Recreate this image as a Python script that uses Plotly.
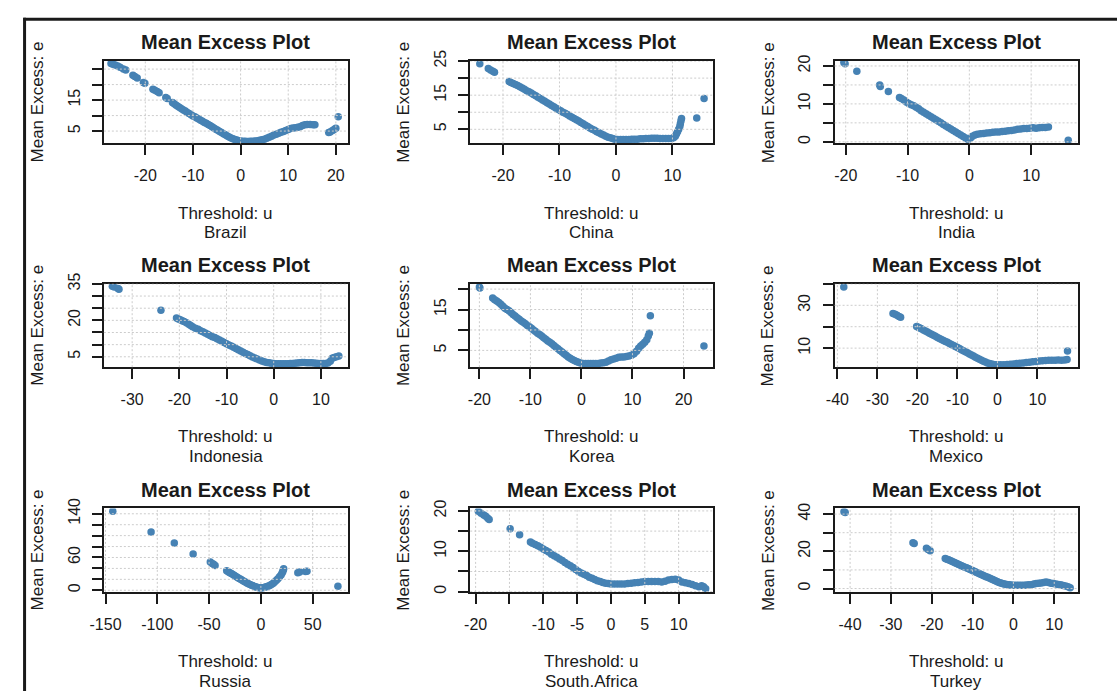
import plotly.graph_objects as go

W, H = 1117, 693

# (threshold u, mean excess e) pairs for each country
brazil = [
    (-27.2, 26.8), (-26.8, 26.6), (-26.3, 26.3), (-25.8, 26.0), (-25.3, 25.6), (-24.6, 25.0),
    (-24.1, 24.7), (-22.6, 23.0), (-22.2, 22.6), (-21.7, 22.1), (-20.4, 20.7), (-20.1, 20.4),
    (-18.4, 18.5), (-18.0, 18.2), (-17.5, 17.8), (-17.1, 17.4), (-15.7, 15.8), (-15.4, 15.5),
    (-14.3, 14.2), (-14.0, 13.9), (-13.6, 13.4), (-13.2, 13.0), (-12.8, 12.6), (-12.4, 12.2),
    (-12.0, 11.8), (-11.6, 11.5), (-11.2, 11.0), (-10.8, 10.7), (-10.4, 10.3), (-10.0, 9.9),
    (-9.6, 9.6), (-9.2, 9.2), (-8.8, 8.9), (-8.4, 8.5), (-8.0, 8.2), (-7.6, 7.8), (-7.2, 7.5),
    (-6.8, 7.1), (-6.4, 6.8), (-6.0, 6.4), (-5.6, 6.0), (-5.2, 5.6), (-4.8, 5.3), (-4.4, 4.9),
    (-4.0, 4.5), (-3.6, 4.1), (-3.2, 3.8), (-2.8, 3.4), (-2.4, 3.1), (-2.0, 2.8), (-1.6, 2.5),
    (-1.2, 2.3), (-0.8, 2.1), (-0.4, 1.9), (0.0, 1.8), (0.5, 1.7), (1.0, 1.7), (1.5, 1.6),
    (2.0, 1.7), (2.5, 1.7), (3.0, 1.8), (3.5, 1.9), (4.0, 2.0), (4.5, 2.2), (5.0, 2.4),
    (5.5, 2.7), (6.0, 3.0), (6.5, 3.3), (7.0, 3.7), (7.5, 4.0), (8.0, 4.3), (8.5, 4.6),
    (9.0, 4.9), (9.5, 5.2), (10.0, 5.5), (10.5, 5.8), (11.0, 6.0), (11.5, 6.1), (12.0, 6.2),
    (12.5, 6.4), (13.0, 6.8), (13.5, 7.0), (14.0, 7.1), (14.6, 7.1), (15.2, 7.0), (15.6, 7.0),
    (18.5, 4.5), (18.8, 4.7), (19.3, 5.2), (19.7, 5.6), (20.0, 5.9), (20.5, 9.6),
]

china = [
    (-24.1, 24.2), (-22.6, 22.8), (-22.2, 22.4), (-21.8, 22.0), (-21.5, 21.7), (-18.9, 19.0),
    (-18.6, 18.7), (-18.2, 18.4), (-17.8, 18.1), (-17.4, 17.8), (-17.0, 17.5), (-16.6, 17.1),
    (-16.2, 16.7), (-15.8, 16.3), (-15.4, 16.0), (-15.0, 15.6), (-14.6, 15.2), (-14.2, 14.8),
    (-13.8, 14.4), (-13.4, 14.0), (-13.0, 13.6), (-12.6, 13.2), (-12.2, 12.8), (-11.8, 12.4),
    (-11.4, 12.0), (-11.0, 11.6), (-10.6, 11.2), (-10.2, 10.8), (-9.8, 10.4), (-9.4, 10.0),
    (-9.0, 9.7), (-8.6, 9.3), (-8.2, 8.9), (-7.8, 8.5), (-7.4, 8.2), (-7.0, 7.8), (-6.6, 7.4),
    (-6.2, 7.0), (-5.8, 6.6), (-5.4, 6.2), (-5.0, 5.8), (-4.6, 5.4), (-4.2, 5.0), (-3.8, 4.7),
    (-3.4, 4.3), (-3.0, 4.0), (-2.6, 3.6), (-2.2, 3.3), (-1.8, 3.0), (-1.4, 2.7), (-1.0, 2.5),
    (-0.6, 2.3), (-0.2, 2.1), (0.3, 2.0), (0.8, 2.0), (1.3, 2.0), (1.8, 2.0), (2.3, 2.0),
    (2.8, 2.1), (3.3, 2.1), (3.8, 2.1), (4.3, 2.2), (4.8, 2.2), (5.3, 2.3), (5.8, 2.3),
    (6.3, 2.4), (6.8, 2.4), (7.3, 2.4), (7.8, 2.3), (8.3, 2.3), (8.8, 2.3), (9.3, 2.3),
    (9.8, 2.3), (10.2, 2.5), (10.5, 3.0), (10.7, 3.6), (10.9, 4.3), (11.1, 5.0), (11.3, 5.8),
    (11.4, 6.6), (11.5, 7.4), (11.6, 8.2), (14.3, 8.3), (15.6, 14.0),
]

india = [
    (-20.3, 20.9), (-20.1, 20.6), (-18.2, 18.6), (-14.5, 15.0), (-14.4, 14.6), (-13.1, 13.3),
    (-11.3, 11.7), (-11.0, 11.4), (-10.6, 11.0), (-10.2, 10.5), (-9.8, 10.1), (-9.4, 9.8),
    (-9.0, 9.5), (-8.6, 9.1), (-8.2, 8.7), (-7.8, 8.2), (-7.4, 7.8), (-7.0, 7.4), (-6.6, 7.0),
    (-6.2, 6.6), (-5.8, 6.2), (-5.4, 5.8), (-5.0, 5.4), (-4.6, 5.0), (-4.2, 4.6), (-3.8, 4.2),
    (-3.4, 3.8), (-3.0, 3.4), (-2.6, 3.0), (-2.2, 2.6), (-1.8, 2.2), (-1.4, 1.8), (-1.0, 1.4),
    (-0.6, 1.0), (-0.2, 0.6), (0.2, 1.0), (0.5, 1.5), (0.9, 1.8), (1.3, 2.0), (1.8, 2.1),
    (2.3, 2.2), (2.8, 2.3), (3.3, 2.4), (3.8, 2.5), (4.3, 2.6), (4.8, 2.6), (5.3, 2.7),
    (5.8, 2.8), (6.3, 2.9), (6.8, 3.0), (7.3, 3.1), (7.8, 3.3), (8.3, 3.4), (8.8, 3.5),
    (9.3, 3.5), (9.8, 3.6), (10.3, 3.7), (10.8, 3.6), (11.3, 3.7), (11.8, 3.8), (12.3, 3.8),
    (12.8, 3.9), (16.0, 0.4),
]

indonesia = [
    (-34.2, 34.0), (-33.8, 33.7), (-33.0, 33.1), (-32.8, 32.8), (-23.9, 24.2), (-20.6, 21.0),
    (-20.2, 20.6), (-19.8, 20.3), (-19.4, 19.8), (-19.0, 19.5), (-18.5, 19.0), (-18.0, 18.4),
    (-17.6, 17.9), (-17.2, 17.4), (-16.6, 16.8), (-16.0, 16.3), (-15.5, 15.7), (-15.0, 15.3),
    (-14.5, 14.8), (-14.0, 14.3), (-13.5, 13.8), (-13.0, 13.3), (-12.5, 12.9), (-12.0, 12.4),
    (-11.5, 11.9), (-11.0, 11.4), (-10.5, 10.9), (-10.0, 10.4), (-9.5, 9.9), (-9.0, 9.4),
    (-8.5, 8.9), (-8.0, 8.4), (-7.5, 7.9), (-7.0, 7.4), (-6.5, 6.9), (-6.0, 6.4), (-5.5, 5.9),
    (-5.0, 5.4), (-4.5, 4.9), (-4.0, 4.5), (-3.5, 4.1), (-3.0, 3.7), (-2.5, 3.3), (-2.0, 3.0),
    (-1.5, 2.7), (-1.0, 2.5), (-0.5, 2.3), (0.0, 2.2), (0.5, 2.1), (1.0, 2.1), (1.5, 2.1),
    (2.0, 2.1), (2.5, 2.1), (3.0, 2.1), (3.5, 2.2), (4.0, 2.2), (4.5, 2.3), (5.0, 2.4),
    (5.5, 2.6), (6.0, 2.7), (6.5, 2.7), (7.0, 2.6), (7.5, 2.6), (8.0, 2.5), (8.5, 2.4),
    (9.0, 2.3), (9.5, 2.2), (10.0, 2.2), (10.5, 2.2), (11.0, 2.2), (11.5, 2.4), (12.0, 3.2),
    (12.4, 4.4), (12.8, 4.7), (13.3, 5.0), (13.8, 5.3),
]

korea = [
    (-20.0, 20.5), (-19.9, 20.3), (-17.4, 17.8), (-17.0, 17.4), (-16.6, 17.1), (-16.2, 16.7),
    (-15.8, 16.3), (-15.4, 15.8), (-15.0, 15.3), (-14.6, 15.0), (-14.2, 14.7), (-13.8, 14.3),
    (-13.4, 13.8), (-13.0, 13.4), (-12.6, 13.0), (-12.2, 12.6), (-11.8, 12.2), (-11.4, 11.9),
    (-11.0, 11.5), (-10.6, 11.1), (-10.2, 10.8), (-9.8, 10.4), (-9.4, 10.0), (-9.0, 9.6),
    (-8.6, 9.2), (-8.2, 8.9), (-7.8, 8.5), (-7.4, 8.1), (-7.0, 7.7), (-6.6, 7.3), (-6.2, 7.0),
    (-5.8, 6.6), (-5.4, 6.2), (-5.0, 5.8), (-4.6, 5.4), (-4.2, 5.0), (-3.8, 4.6), (-3.4, 4.2),
    (-3.0, 3.8), (-2.6, 3.4), (-2.2, 3.1), (-1.8, 2.8), (-1.4, 2.5), (-1.0, 2.3), (-0.6, 2.1),
    (-0.2, 1.9), (0.3, 1.8), (0.8, 1.8), (1.3, 1.8), (1.8, 1.8), (2.3, 1.8), (2.8, 1.8),
    (3.3, 1.8), (3.8, 1.9), (4.3, 2.0), (4.8, 2.1), (5.3, 2.4), (5.8, 2.7), (6.3, 2.9),
    (6.8, 3.1), (7.3, 3.3), (7.8, 3.4), (8.3, 3.4), (8.8, 3.5), (9.3, 3.6), (9.8, 3.8),
    (10.3, 4.2), (10.8, 4.8), (11.2, 5.5), (11.6, 6.1), (12.0, 6.5), (12.4, 7.0), (12.8, 7.6),
    (13.1, 8.5), (13.3, 9.2), (13.5, 13.5), (24.0, 6.1),
]

mexico = [
    (-38.4, 38.5), (-26.1, 26.2), (-25.6, 25.8), (-25.1, 25.3), (-24.6, 24.8), (-24.2, 24.4),
    (-20.2, 20.1), (-19.8, 19.8), (-19.4, 19.4), (-19.0, 19.0), (-18.5, 18.5), (-18.0, 18.0),
    (-17.5, 17.5), (-17.0, 17.0), (-16.5, 16.5), (-16.0, 16.0), (-15.5, 15.5), (-15.0, 15.0),
    (-14.5, 14.5), (-14.0, 14.0), (-13.5, 13.6), (-13.0, 13.1), (-12.5, 12.7), (-12.0, 12.2),
    (-11.5, 11.7), (-11.0, 11.2), (-10.5, 10.8), (-10.0, 10.3), (-9.5, 9.8), (-9.0, 9.3),
    (-8.5, 8.8), (-8.0, 8.3), (-7.5, 7.8), (-7.0, 7.3), (-6.5, 6.8), (-6.0, 6.3), (-5.5, 5.8),
    (-5.0, 5.3), (-4.5, 4.8), (-4.0, 4.4), (-3.5, 3.9), (-3.0, 3.5), (-2.5, 3.1), (-2.0, 2.8),
    (-1.5, 2.6), (-1.0, 2.4), (-0.5, 2.3), (0.0, 2.3), (0.8, 2.3), (1.6, 2.3), (2.4, 2.4),
    (3.2, 2.5), (4.0, 2.6), (4.8, 2.8), (5.6, 3.0), (6.4, 3.1), (7.2, 3.3), (8.0, 3.4),
    (8.8, 3.6), (9.6, 3.8), (10.4, 4.0), (11.2, 4.1), (12.0, 4.2), (12.8, 4.3), (13.6, 4.4),
    (14.4, 4.4), (15.2, 4.5), (16.0, 4.4), (16.8, 4.5), (17.4, 4.7), (17.5, 8.7),
]

russia = [
    (-143.0, 144.8), (-106.0, 106.8), (-83.6, 86.3), (-65.4, 66.4), (-48.8, 51.8), (-47.0, 49.0),
    (-45.6, 47.5), (-44.2, 45.5), (-33.0, 35.5), (-31.5, 33.8), (-30.0, 32.2), (-28.5, 30.5),
    (-27.0, 28.8), (-25.5, 27.2), (-24.0, 25.3), (-22.5, 23.4), (-21.0, 21.7), (-19.5, 20.0),
    (-18.0, 18.4), (-16.5, 16.7), (-15.0, 15.1), (-13.5, 13.5), (-12.0, 12.0), (-10.5, 10.6),
    (-9.0, 9.3), (-7.5, 8.1), (-6.0, 7.0), (-4.5, 6.0), (-3.0, 5.2), (-1.5, 4.6), (0.0, 4.2),
    (1.5, 4.4), (3.0, 5.0), (4.5, 5.8), (6.0, 6.8), (7.5, 7.8), (9.0, 9.0), (10.5, 10.8),
    (12.0, 13.0), (13.5, 15.5), (15.0, 18.2), (16.5, 21.0), (18.0, 24.5), (19.5, 28.0),
    (20.5, 31.5), (21.2, 34.5), (21.7, 37.5), (22.0, 39.5), (35.7, 32.0), (37.5, 33.2),
    (43.1, 34.4), (44.5, 35.0), (74.4, 7.2),
]

south_africa = [
    (-19.6, 19.9), (-19.2, 19.4), (-18.8, 19.0), (-18.5, 18.7), (-18.2, 18.2), (-18.0, 17.9),
    (-14.9, 15.6), (-13.5, 14.1), (-11.9, 12.3), (-11.6, 12.0), (-11.2, 11.7), (-10.8, 11.4),
    (-10.4, 11.0), (-10.0, 10.6), (-9.6, 10.2), (-9.2, 9.8), (-8.8, 9.3), (-8.4, 8.9),
    (-8.0, 8.5), (-7.6, 8.1), (-7.2, 7.7), (-6.8, 7.2), (-6.4, 6.8), (-6.0, 6.4), (-5.6, 6.0),
    (-5.2, 5.5), (-4.8, 5.0), (-4.4, 4.6), (-4.0, 4.3), (-3.6, 4.0), (-3.2, 3.6), (-2.8, 3.3),
    (-2.4, 3.0), (-2.0, 2.7), (-1.6, 2.5), (-1.2, 2.3), (-0.8, 2.1), (-0.4, 2.0), (0.0, 1.9),
    (0.5, 1.9), (1.0, 1.9), (1.5, 1.9), (2.0, 1.9), (2.5, 2.0), (3.0, 2.1), (3.5, 2.2),
    (4.0, 2.3), (4.5, 2.4), (5.0, 2.5), (5.5, 2.5), (6.0, 2.5), (6.5, 2.5), (7.0, 2.5),
    (7.5, 2.4), (8.0, 2.6), (8.5, 2.9), (9.0, 3.0), (9.5, 3.1), (10.0, 2.9), (10.5, 2.4),
    (11.0, 2.2), (11.5, 2.0), (12.0, 1.8), (12.5, 1.5), (13.0, 1.2), (13.4, 1.5), (13.7, 1.2),
    (14.0, 0.7),
]

turkey = [
    (-41.5, 41.3), (-41.2, 40.9), (-24.6, 24.6), (-24.3, 24.2), (-21.3, 21.6), (-20.9, 21.0),
    (-20.4, 20.3), (-16.7, 16.2), (-16.3, 15.8), (-15.9, 15.4), (-15.5, 15.0), (-15.1, 14.6),
    (-14.7, 14.2), (-14.3, 13.8), (-13.9, 13.4), (-13.5, 13.0), (-13.1, 12.7), (-12.7, 12.3),
    (-12.3, 11.9), (-11.9, 11.5), (-11.5, 11.2), (-11.1, 10.8), (-10.7, 10.4), (-10.3, 10.0),
    (-9.9, 9.6), (-9.5, 9.2), (-9.1, 8.8), (-8.7, 8.4), (-8.3, 8.0), (-7.9, 7.6), (-7.5, 7.2),
    (-7.1, 6.8), (-6.7, 6.4), (-6.3, 6.0), (-5.9, 5.6), (-5.5, 5.2), (-5.1, 4.8), (-4.7, 4.4),
    (-4.3, 4.0), (-3.9, 3.6), (-3.5, 3.3), (-3.1, 3.0), (-2.7, 2.7), (-2.3, 2.5), (-1.9, 2.3),
    (-1.5, 2.1), (-1.1, 2.0), (-0.7, 1.9), (-0.3, 1.8), (0.2, 1.8), (0.8, 1.8), (1.4, 1.8),
    (2.0, 1.8), (2.6, 1.8), (3.2, 1.9), (3.8, 2.0), (4.4, 2.1), (5.0, 2.4), (5.6, 2.7),
    (6.2, 2.9), (6.8, 3.0), (7.4, 3.2), (8.0, 3.5), (8.6, 3.2), (9.2, 2.9), (9.8, 2.7),
    (10.4, 2.5), (11.0, 2.2), (11.6, 2.0), (12.2, 1.7), (12.8, 1.4), (13.4, 0.9), (13.9, 0.4),
]

countries = ["Brazil", "China", "India", "Indonesia", "Korea", "Mexico",
             "Russia", "South.Africa", "Turkey"]
series = [brazil, china, india, indonesia, korea, mexico, russia, south_africa, turkey]

# axis tick positions and the subset of y ticks that carry a label
x_ticks = [
    [-20, -10, 0, 10, 20], [-20, -10, 0, 10], [-20, -10, 0, 10],
    [-30, -20, -10, 0, 10], [-20, -10, 0, 10, 20], [-40, -30, -20, -10, 0, 10],
    [-150, -100, -50, 0, 50], [-20, -15, -10, -5, 0, 5, 10], [-40, -30, -20, -10, 0, 10],
]
x_unlabeled = [[], [], [], [], [], [], [], [-15], []]
y_ticks = [
    [5, 10, 15, 20, 25], [5, 10, 15, 20, 25], [0, 5, 10, 15, 20],
    [5, 10, 15, 20, 25, 30, 35], [5, 10, 15, 20], [10, 20, 30, 40],
    [0, 20, 40, 60, 80, 100, 120, 140], [0, 5, 10, 15, 20], [0, 10, 20, 30, 40],
]
y_labeled = [
    [5, 15], [5, 15, 25], [0, 10, 20],
    [5, 20, 35], [5, 15], [10, 30],
    [0, 60, 140], [0, 10, 20], [0, 20, 40],
]

# axis limits (data range plus R-style padding)
x_ranges = [
    [-28.7, 22.5], [-25.8, 17.2], [-21.8, 17.5],
    [-36.0, 15.7], [-21.8, 25.8], [-40.7, 20.0],
    [-151.6, 83.9], [-20.8, 15.1], [-43.8, 15.7],
]
y_ranges = [
    [1.0, 27.6], [0.85, 25.0], [-0.43, 21.3],
    [0.72, 35.05], [0.89, 21.3], [1.1, 40.05],
    [-3.0, 149.7], [-0.05, 20.6], [-1.8, 43.0],
]

# plot-box pixel edges of the 3x3 grid
col_px = [(91, 338), (462, 708), (831, 1077)]
row_px = [(51, 135), (278, 363), (507, 592)]

FONT = "Liberation Sans, Arial, sans-serif"
INK = "#1a1a1a"
POINT = "#4682B4"
GRID = "#cccccc"


def px_x(v):
    return v / W


def px_y(v):
    return 1 - v / H


fig = go.Figure()
shapes = []
annotations = []
axes = {}

for i, name in enumerate(countries):
    r, c = divmod(i, 3)
    left, right = col_px[c]
    top, bottom = row_px[r]
    k = "" if i == 0 else str(i + 1)
    pts = series[i]

    fig.add_trace(go.Scatter(
        x=[p[0] for p in pts], y=[p[1] for p in pts],
        mode="markers", xaxis="x" + k, yaxis="y" + k,
        marker=dict(size=7.5, color=POINT, line=dict(width=0)),
        showlegend=False, hoverinfo="skip",
    ))

    axes["xaxis" + k] = dict(
        domain=[px_x(left), px_x(right)], range=x_ranges[i], anchor="y" + k,
        tickmode="array", tickvals=x_ticks[i],
        ticktext=["" if v in x_unlabeled[i] else str(v) for v in x_ticks[i]],
        ticks="outside", ticklen=10, tickwidth=1.5, tickcolor=INK,
        showline=True, mirror=True, linecolor=INK, linewidth=1.5,
        showgrid=False, zeroline=False, ticklabelstandoff=7,
        tickfont=dict(family=FONT, size=16, color=INK), fixedrange=True,
    )
    axes["yaxis" + k] = dict(
        domain=[px_y(bottom), px_y(top)], range=y_ranges[i], anchor="x" + k,
        tickmode="array", tickvals=y_ticks[i],
        ticktext=[str(v) if v in y_labeled[i] else "" for v in y_ticks[i]],
        ticks="outside", ticklen=10, tickwidth=1.5, tickcolor=INK, tickangle=-90,
        showline=True, mirror=True, linecolor=INK, linewidth=1.5,
        showgrid=False, zeroline=False, ticklabelstandoff=6,
        tickfont=dict(family=FONT, size=16, color=INK), fixedrange=True,
    )

    # dotted grid at the tick positions, drawn over the points
    for v in x_ticks[i]:
        shapes.append(dict(type="line", xref="x" + k, yref=f"y{k} domain",
                           x0=v, x1=v, y0=0, y1=1, layer="above",
                           line=dict(color=GRID, width=1, dash="2px,2px")))
    for v in y_ticks[i]:
        shapes.append(dict(type="line", xref=f"x{k} domain", yref="y" + k,
                           x0=0, x1=1, y0=v, y1=v, layer="above",
                           line=dict(color=GRID, width=1, dash="2px,2px")))

    cx = (left + right) / 2
    annotations.append(dict(text="<b>Mean Excess Plot</b>", x=px_x(cx), y=px_y(top - 19),
                            xref="paper", yref="paper", showarrow=False,
                            xanchor="center", yanchor="middle",
                            font=dict(family=FONT, size=20, color=INK)))
    annotations.append(dict(text="Threshold: u", x=px_x(cx), y=px_y(bottom + 71),
                            xref="paper", yref="paper", showarrow=False,
                            xanchor="center", yanchor="middle",
                            font=dict(family=FONT, size=17, color=INK)))
    annotations.append(dict(text=name, x=px_x(cx), y=px_y(bottom + 91),
                            xref="paper", yref="paper", showarrow=False,
                            xanchor="center", yanchor="middle",
                            font=dict(family=FONT, size=17, color=INK)))
    annotations.append(dict(text="Mean Excess: e", x=px_x(left - 67.5),
                            y=px_y((top + bottom) / 2),
                            xref="paper", yref="paper", showarrow=False, textangle=-90,
                            xanchor="center", yanchor="middle",
                            font=dict(family=FONT, size=17, color=INK)))

# outer frame along the top and left edges
shapes.append(dict(type="line", xref="paper", yref="paper",
                   x0=px_x(9.5), x1=1, y0=px_y(8.3), y1=px_y(8.3),
                   line=dict(color=INK, width=3), layer="above"))
shapes.append(dict(type="line", xref="paper", yref="paper",
                   x0=px_x(10.7), x1=px_x(10.7), y0=0, y1=px_y(7),
                   line=dict(color=INK, width=3), layer="above"))

fig.update_layout(
    width=W, height=H,
    margin=dict(l=0, r=0, t=0, b=0),
    paper_bgcolor="white", plot_bgcolor="white",
    shapes=shapes, annotations=annotations,
    font=dict(family=FONT, color=INK),
    **axes,
)

fig.write_html("out.html")
